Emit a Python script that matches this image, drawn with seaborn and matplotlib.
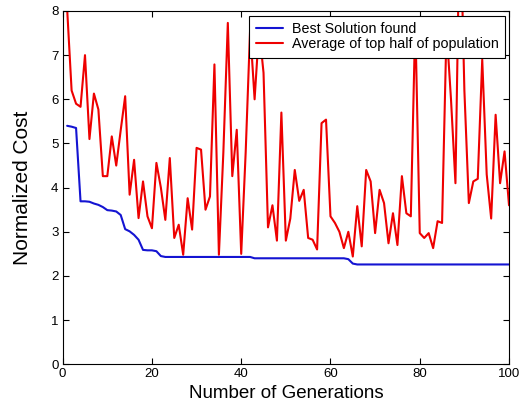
import matplotlib

matplotlib.use("Agg")
import matplotlib.pyplot as plt
import seaborn as sns
import pandas as pd

# Data
generations = list(range(1, 101))

best_cost = [
    5.40, 5.38, 5.35, 3.69, 3.69, 3.68, 3.64, 3.61, 3.56, 3.49,
    3.48, 3.46, 3.38, 3.06, 3.01, 2.93, 2.82, 2.59, 2.58, 2.58,
    2.56, 2.45, 2.43, 2.43, 2.43, 2.43, 2.43, 2.43, 2.43, 2.43,
    2.43, 2.43, 2.43, 2.43, 2.43, 2.43, 2.43, 2.43, 2.43, 2.43,
    2.43, 2.43, 2.40, 2.40, 2.40, 2.40, 2.40, 2.40, 2.40, 2.40,
    2.40, 2.40, 2.40, 2.40, 2.40, 2.40, 2.40, 2.40, 2.40, 2.40,
    2.40, 2.40, 2.40, 2.38, 2.28, 2.26, 2.26, 2.26, 2.26, 2.26,
    2.26, 2.26, 2.26, 2.26, 2.26, 2.26, 2.26, 2.26, 2.26, 2.26,
    2.26, 2.26, 2.26, 2.26, 2.26, 2.26, 2.26, 2.26, 2.26, 2.26,
    2.26, 2.26, 2.26, 2.26, 2.26, 2.26, 2.26, 2.26, 2.26, 2.26,
]

avg_top_half = [
    8.05, 6.20, 5.90, 5.83, 7.00, 5.10, 6.13, 5.77, 4.26, 4.26,
    5.16, 4.50, 5.30, 6.07, 3.84, 4.63, 3.31, 4.14, 3.35, 3.08,
    4.56, 4.00, 3.27, 4.67, 2.86, 3.16, 2.48, 3.76, 3.05, 4.90,
    4.86, 3.50, 3.80, 6.79, 2.48, 4.80, 7.73, 4.26, 5.31, 2.50,
    4.80, 7.60, 6.00, 7.60, 6.60, 3.10, 3.60, 2.80, 5.70, 2.80,
    3.30, 4.40, 3.70, 3.95, 2.86, 2.82, 2.60, 5.46, 5.54, 3.35,
    3.20, 3.00, 2.63, 3.00, 2.44, 3.58, 2.67, 4.40, 4.14, 2.97,
    3.95, 3.65, 2.74, 3.42, 2.70, 4.26, 3.42, 3.35, 7.80, 2.97,
    2.86, 2.97, 2.63, 3.24, 3.20, 7.60, 6.00, 4.10, 10.50, 6.20,
    3.65, 4.14, 4.20, 6.90, 4.30, 3.30, 5.65, 4.10, 4.82, 3.60,
]

df = pd.DataFrame(
    {"Generation": generations, "Best": best_cost, "Average": avg_top_half}
)

sns.set_style("ticks")
plt.rcParams["font.family"] = ["Liberation Sans", "DejaVu Sans"]
plt.rcParams.update(
    {
        "text.color": "black",
        "axes.labelcolor": "black",
        "xtick.color": "black",
        "ytick.color": "black",
        "axes.edgecolor": "black",
    }
)

fig = plt.figure(figsize=(5.21, 4.07), dpi=100)
ax = fig.add_axes([0.1203, 0.105, 0.8567, 0.868])

sns.lineplot(
    data=df,
    x="Generation",
    y="Best",
    color="#1414d2",
    linewidth=1.5,
    label="Best Solution found",
    ax=ax,
)
sns.lineplot(
    data=df,
    x="Generation",
    y="Average",
    color="#ee0000",
    linewidth=1.5,
    label="Average of top half of population",
    ax=ax,
)

ax.set_xlim(0, 100)
ax.set_ylim(0, 8)
ax.set_xticks([0, 20, 40, 60, 80, 100])
ax.set_yticks(range(9))
ax.tick_params(
    direction="in", top=True, right=True, length=4, width=0.8, labelsize=9.5
)
ax.tick_params(axis="x", pad=2.5)
ax.tick_params(axis="y", pad=3)
for spine in ax.spines.values():
    spine.set_visible(True)
    spine.set_linewidth(0.8)

ax.set_xlabel("Number of Generations", fontsize=13.5, labelpad=4)
ax.set_ylabel("Normalized Cost", fontsize=15, labelpad=14)

leg = ax.legend(
    loc="upper right",
    bbox_to_anchor=(0.991, 0.986),
    borderaxespad=0,
    fancybox=False,
    framealpha=1,
    edgecolor="black",
    fontsize=10.3,
    labelspacing=0.05,
    handlelength=1.9,
    handletextpad=0.6,
    borderpad=0.45,
)
leg.get_frame().set_linewidth(0.8)

fig.savefig("out.png", dpi=100)
